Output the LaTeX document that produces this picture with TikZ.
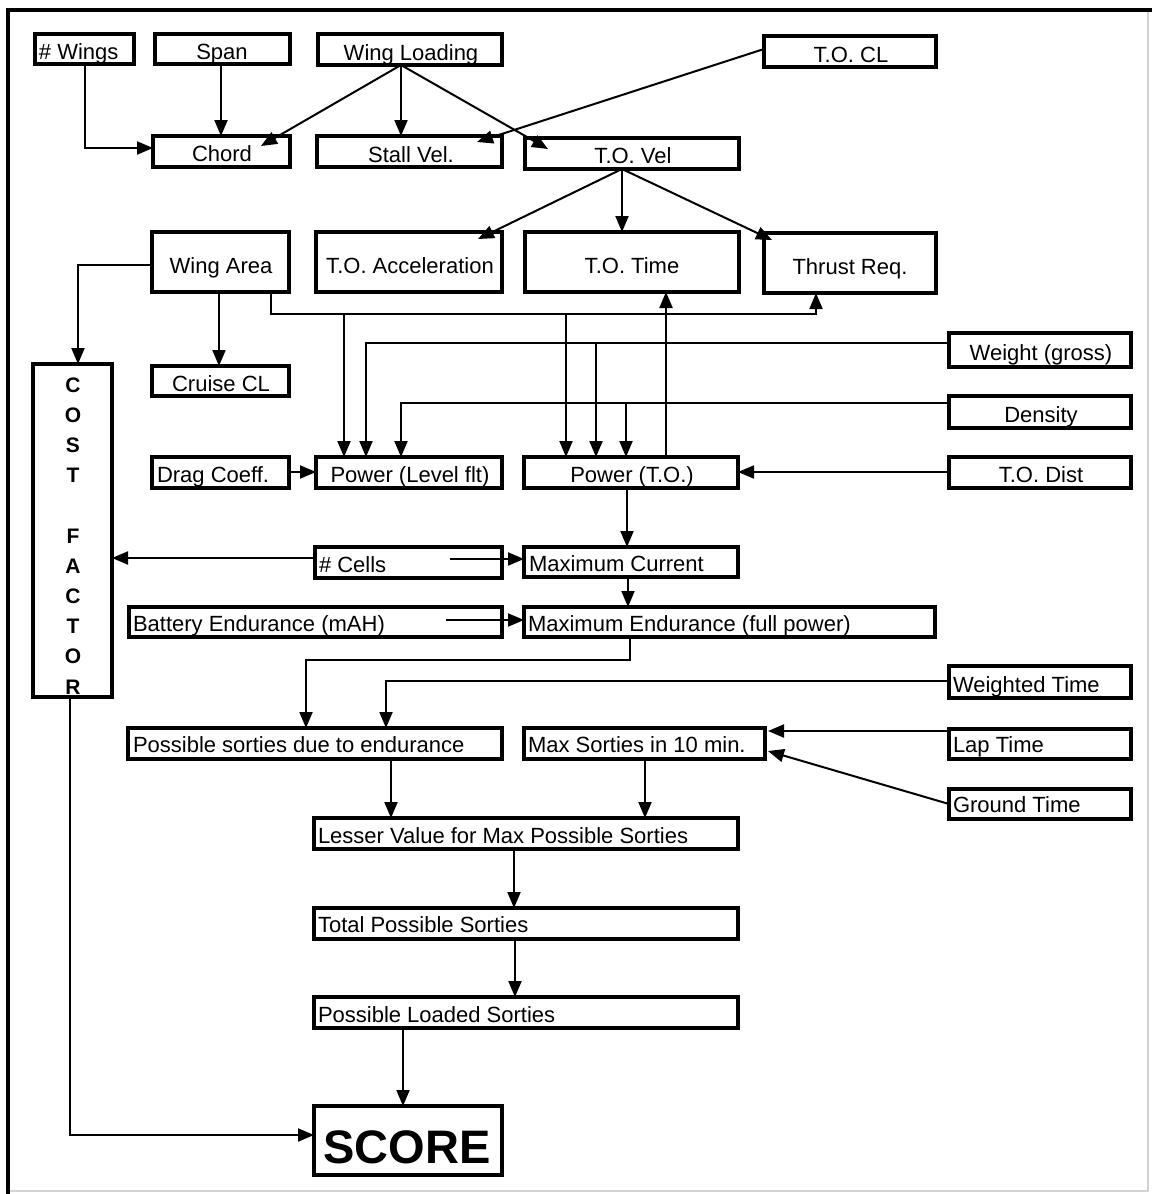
\documentclass[tikz,border=0pt]{standalone}
\usepackage{fontspec}
\setmainfont{Liberation Sans}
\usetikzlibrary{arrows.meta,calc}
\newcommand\mkbox[5]{\node[boxst, minimum width={(#4-#2)*0.5pt}, minimum height={(#5-#3)*0.5pt}] (#1) at ({(#2+#4)/2},{(#3+#5)/2}) {};}
\newcommand\mktext[5]{\node[txt, anchor=#4] (#1) at (#2,#3) {#5};}
\tikzset{
  boxst/.style={draw, line width=1.8pt, inner sep=0pt, outer sep=0pt, fill=white},
  txt/.style={inner sep=0pt, outer sep=0pt, font=\fontsize{11pt}{13pt}\selectfont},
  cfl/.style={inner sep=0pt, anchor=base, font=\fontsize{10.5pt}{12pt}\selectfont\bfseries},
  conn/.style={line width=1pt},
  arr/.style={line width=1pt, -{Triangle[length=8pt,width=6.5pt]}},
}
\begin{document}
\begin{tikzpicture}[x=0.5pt,y=-0.5pt]
\useasboundingbox (0,0) rectangle (1152,1194);
% frame
\draw[gray!35, line width=1pt] (1148,10) -- (1148,1191) -- (8,1191);
\draw[line width=1.6pt] (1152,10) -- (8,10) -- (8,1194);

% boxes
\mkbox{wings}{35}{34}{134}{64}
\mkbox{span}{155}{34}{290}{64}
\mkbox{wload}{318}{34}{502}{65}
\mkbox{tocl}{764}{36}{936}{67}
\mkbox{chord}{153}{136}{290}{167}
\mkbox{stall}{317}{136}{502}{167}
\mkbox{tovel}{525}{138}{739}{169}
\mkbox{warea}{152}{232}{289}{292}
\mkbox{toacc}{316}{232}{502}{292}
\mkbox{totime}{525}{232}{739}{292}
\mkbox{thrust}{764}{233}{936}{293}
\mkbox{cost}{33}{364}{112}{697}
\mkbox{cruise}{152}{366}{289}{396}
\mkbox{weight}{949}{333}{1131}{367}
\mkbox{density}{949}{396}{1131}{428}
\mkbox{todist}{949}{457}{1131}{488}
\mkbox{drag}{152}{457}{289}{488}
\mkbox{plevel}{316}{457}{502}{488}
\mkbox{pto}{524}{457}{738}{488}
\mkbox{cells}{315}{547}{502}{578}
\mkbox{maxcur}{524}{547}{738}{577}
\mkbox{batt}{129}{607}{502}{637}
\mkbox{maxend}{524}{607}{935}{637}
\mkbox{wtime}{949}{666}{1131}{698}
\mkbox{possend}{128}{728}{502}{759}
\mkbox{maxsort}{524}{728}{765}{759}
\mkbox{lap}{949}{729}{1131}{759}
\mkbox{ground}{949}{789}{1131}{819}
\mkbox{lesser}{314}{818}{738}{849}
\mkbox{total}{314}{908}{738}{939}
\mkbox{loaded}{314}{997}{738}{1028}
\mkbox{score}{314}{1106}{502}{1175}

% texts
\mktext{wingst}{39}{59}{base west}{\# Wings}
\mktext{spant}{222}{59}{base}{Span}
\mktext{wloadt}{411}{60}{base}{Wing Loading}
\mktext{toclt}{851}{62}{base}{T.O. CL}
\mktext{chordt}{222}{161}{base}{Chord}
\mktext{stallt}{411}{162}{base}{Stall Vel.}
\mktext{tovelt}{633}{163}{base}{T.O. Vel}
\mktext{wareat}{221}{273}{base}{Wing Area}
\mktext{toacct}{410}{273}{base}{T.O. Acceleration}
\mktext{totimet}{632}{273}{base}{T.O. Time}
\mktext{thrustt}{850}{274}{base}{Thrust Req.}
\mktext{cruiset}{221}{391}{base}{Cruise CL}
\mktext{weightt}{1041}{360}{base}{Weight (gross)}
\mktext{densityt}{1041}{422}{base}{Density}
\mktext{todistt}{1041}{482}{base}{T.O. Dist}
\mktext{dragt}{157}{482}{base west}{Drag Coeff.}
\mktext{plevelt}{410}{482}{base}{Power (Level flt)}
\mktext{ptot}{632}{482}{base}{Power (T.O.)}
\mktext{cellst}{319}{572}{base west}{\# Cells}
\mktext{maxcurt}{529}{571}{base west}{Maximum Current}
\mktext{battt}{133}{631}{base west}{Battery Endurance (mAH)}
\mktext{maxendt}{528}{631}{base west}{Maximum Endurance (full power)}
\mktext{wtimet}{953}{692}{base west}{Weighted Time}
\mktext{possendt}{133}{752}{base west}{Possible sorties due to endurance}
\mktext{maxsortt}{528}{752}{base west}{Max Sorties in 10 min.}
\mktext{lapt}{953}{752}{base west}{Lap Time}
\mktext{groundt}{953}{812}{base west}{Ground Time}
\mktext{lessert}{318}{843}{base west}{Lesser Value for Max Possible Sorties}
\mktext{totalt}{318}{932}{base west}{Total Possible Sorties}
\mktext{loadedt}{318}{1022}{base west}{Possible Loaded Sorties}
\node[inner sep=0pt, anchor=base, font=\fontsize{23.5pt}{26pt}\selectfont\bfseries] (scoret) at (407,1163) {SCORE};

% COST FACTOR letters
\foreach \ch/\k in {C/0,O/1,S/2,T/3,F/5,A/6,C/7,T/8,O/9,R/10}{
  \node[cfl] (cf\k) at (73,{392+30.2*\k}) {\ch};
}

% connectors
\draw[arr] (85,0 |- wings.south) |- (chord.west |- 0,148);
\draw[arr] (221,0 |- span.south) -- (221,0 |- chord.north);
\draw[arr] (401,0 |- wload.south) -- ($(chord.north east)+(-29,10)$);
\draw[arr] (401,0 |- wload.south) -- (401,0 |- stall.north);
\draw[arr] (401,0 |- wload.south) -- ($(tovel.north west)+(23,11)$);
\draw[arr] (tocl.west |- 0,49) -- ($(stall.north east)+(-25,6)$);
\draw[arr] (622,0 |- tovel.south) -- ($(toacc.north east)+(-24,7)$);
\draw[arr] (622,0 |- tovel.south) -- (622,0 |- totime.north);
\draw[arr] (622,0 |- tovel.south) -- ($(thrust.north west)+(8,7)$);

\draw[arr] (warea.west |- 0,265) -| (78,0 |- cost.north);
\draw[arr] (219,0 |- warea.south) -- (219,0 |- cruise.north);

\coordinate (bus) at (0,314);
\draw[arr] (271,0 |- warea.south) |- (816,0 |- bus) -- (816,0 |- thrust.south);
\draw[arr] (344,0 |- bus) -- (344,0 |- plevel.north);
\draw[arr] (566,0 |- bus) -- (566,0 |- pto.north);
\draw[arr] (666,0 |- pto.north) -- (666,0 |- totime.south);

\draw[arr] (weight.west |- 0,343) -| (366,0 |- plevel.north);
\draw[arr] (596,343) -- (596,0 |- pto.north);
\draw[arr] (density.west |- 0,403) -| (401,0 |- plevel.north);
\draw[arr] (626,403) -- (626,0 |- pto.north);
\draw[arr] (todist.west |- 0,472) -- (pto.east |- 0,472);
\draw[arr] (drag.east |- 0,472) -- (plevel.west |- 0,472);

\draw[arr] (627,0 |- pto.south) -- (627,0 |- maxcur.north);
\draw[arr] (cells.west |- 0,558) -- (cost.east |- 0,558);
\draw[arr] ($(cells.east |- 0,559)+(-52,0)$) -- (maxcur.west |- 0,559);
\draw[arr] ($(batt.east |- 0,620)+(-56,0)$) -- (maxend.west |- 0,620);
\draw[arr] (628,0 |- maxcur.south) -- (628,0 |- maxend.north);

\draw[arr] (630,0 |- maxend.south) -- (630,660) -| (306,0 |- possend.north);
\draw[arr] (wtime.west |- 0,681) -| (386,0 |- possend.north);
\draw[arr] (lap.west |- 0,731) -- ($(maxsort.east |- 0,731)+(3,0)$);
\draw[arr] (ground.west |- 0,804) -- ($(maxsort.east |- 0,751)+(3,0)$);

\draw[arr] (391,0 |- possend.south) -- (391,0 |- lesser.north);
\draw[arr] (645,0 |- maxsort.south) -- (645,0 |- lesser.north);
\draw[arr] (514,0 |- lesser.south) -- (514,0 |- total.north);
\draw[arr] (515,0 |- total.south) -- (515,0 |- loaded.north);
\draw[arr] (403,0 |- loaded.south) -- (403,0 |- score.north);
\draw[arr] (70,0 |- cost.south) |- (score.west |- 0,1135);
\end{tikzpicture}
\end{document}
